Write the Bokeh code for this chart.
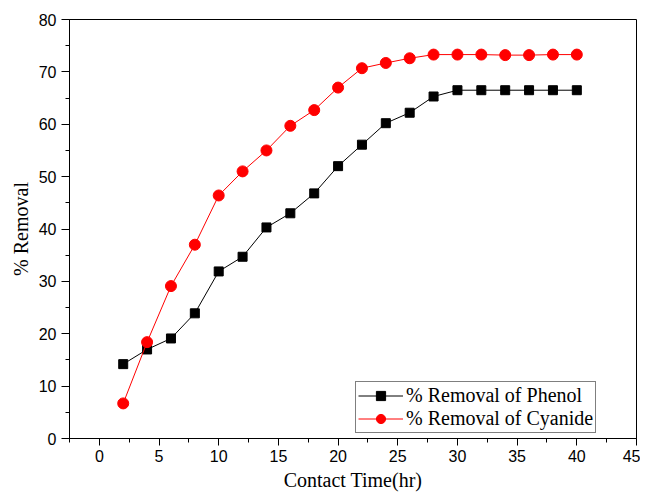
from bokeh.plotting import figure
from bokeh.models import ColumnDataSource, Legend, LegendItem, SingleIntervalTicker, Range1d
from bokeh.embed import file_html
from bokeh.resources import INLINE

time_hr = [2, 4, 6, 8, 10, 12, 14, 16, 18, 20, 22, 24, 26, 28, 30, 32, 34, 36, 38, 40]
phenol = [14.2, 17.0, 19.1, 23.9, 31.9, 34.7, 40.3, 43.0, 46.8, 52.0, 56.1, 60.2, 62.2, 65.3,
          66.5, 66.5, 66.5, 66.5, 66.5, 66.5]
cyanide = [6.7, 18.4, 29.1, 37.0, 46.4, 51.0, 55.0, 59.7, 62.7, 67.0, 70.7, 71.7, 72.6, 73.3,
           73.3, 73.3, 73.2, 73.2, 73.3, 73.3]
x_label = "Contact Time(hr)"
y_label = "% Removal"
series_names = ["% Removal of Phenol", "% Removal of Cyanide"]

src = ColumnDataSource(dict(t=time_hr, phenol=phenol, cyanide=cyanide))

p = figure(width=640, height=494, output_backend="svg", toolbar_location=None,
           x_range=Range1d(-2.5, 45), y_range=Range1d(0, 80),
           min_border_left=69, min_border_right=4, min_border_top=19, min_border_bottom=56)

p.xgrid.visible = False
p.ygrid.visible = False
p.outline_line_color = "black"
p.outline_line_width = 1
p.background_fill_color = "white"
p.border_fill_color = "white"

p.xaxis.ticker = SingleIntervalTicker(interval=5, num_minor_ticks=2)
p.yaxis.ticker = SingleIntervalTicker(interval=10, num_minor_ticks=2)

for ax in (p.xaxis, p.yaxis):
    ax.axis_line_color = "black"
    ax.major_tick_line_color = "black"
    ax.minor_tick_line_color = "black"
    ax.major_tick_in = 0
    ax.major_tick_out = 7
    ax.minor_tick_in = 0
    ax.minor_tick_out = 4
    ax.major_label_text_font = "Liberation Sans"
    ax.major_label_text_font_size = "16px"
    ax.major_label_text_color = "black"
    ax.axis_label_text_font = "Liberation Serif"
    ax.axis_label_text_font_size = "20px"
    ax.axis_label_text_font_style = "normal"
    ax.axis_label_text_color = "black"

p.xaxis.axis_label = x_label
p.yaxis.axis_label = y_label
p.xaxis.major_label_standoff = 4
p.xaxis.axis_label_standoff = 4
p.yaxis.major_tick_out = 8
p.yaxis.major_label_standoff = 5
p.yaxis.axis_label_standoff = 4

l1 = p.line("t", "phenol", source=src, line_color="black", line_width=1)
m1 = p.scatter("t", "phenol", source=src, marker="square", size=9,
               fill_color="black", line_color="black")
l2 = p.line("t", "cyanide", source=src, line_color="#ff0000", line_width=1)
m2 = p.scatter("t", "cyanide", source=src, marker="circle", size=11,
               fill_color="#ff0000", line_color="#ff0000")

legend = Legend(items=[LegendItem(label=series_names[0], renderers=[l1, m1]),
                       LegendItem(label=series_names[1], renderers=[l2, m2])],
                location=(286, 5))
legend.label_text_font = "Liberation Serif"
legend.label_text_font_size = "20px"
legend.label_text_color = "black"
legend.glyph_width = 45
legend.glyph_height = 23
legend.label_height = 23
legend.label_standoff = 3
legend.spacing = 0
legend.padding = 2
legend.margin = 0
legend.border_line_color = "black"
legend.border_line_width = 1
legend.background_fill_alpha = 1
p.add_layout(legend, "center")

open("out.html", "w").write(file_html(p, INLINE))
